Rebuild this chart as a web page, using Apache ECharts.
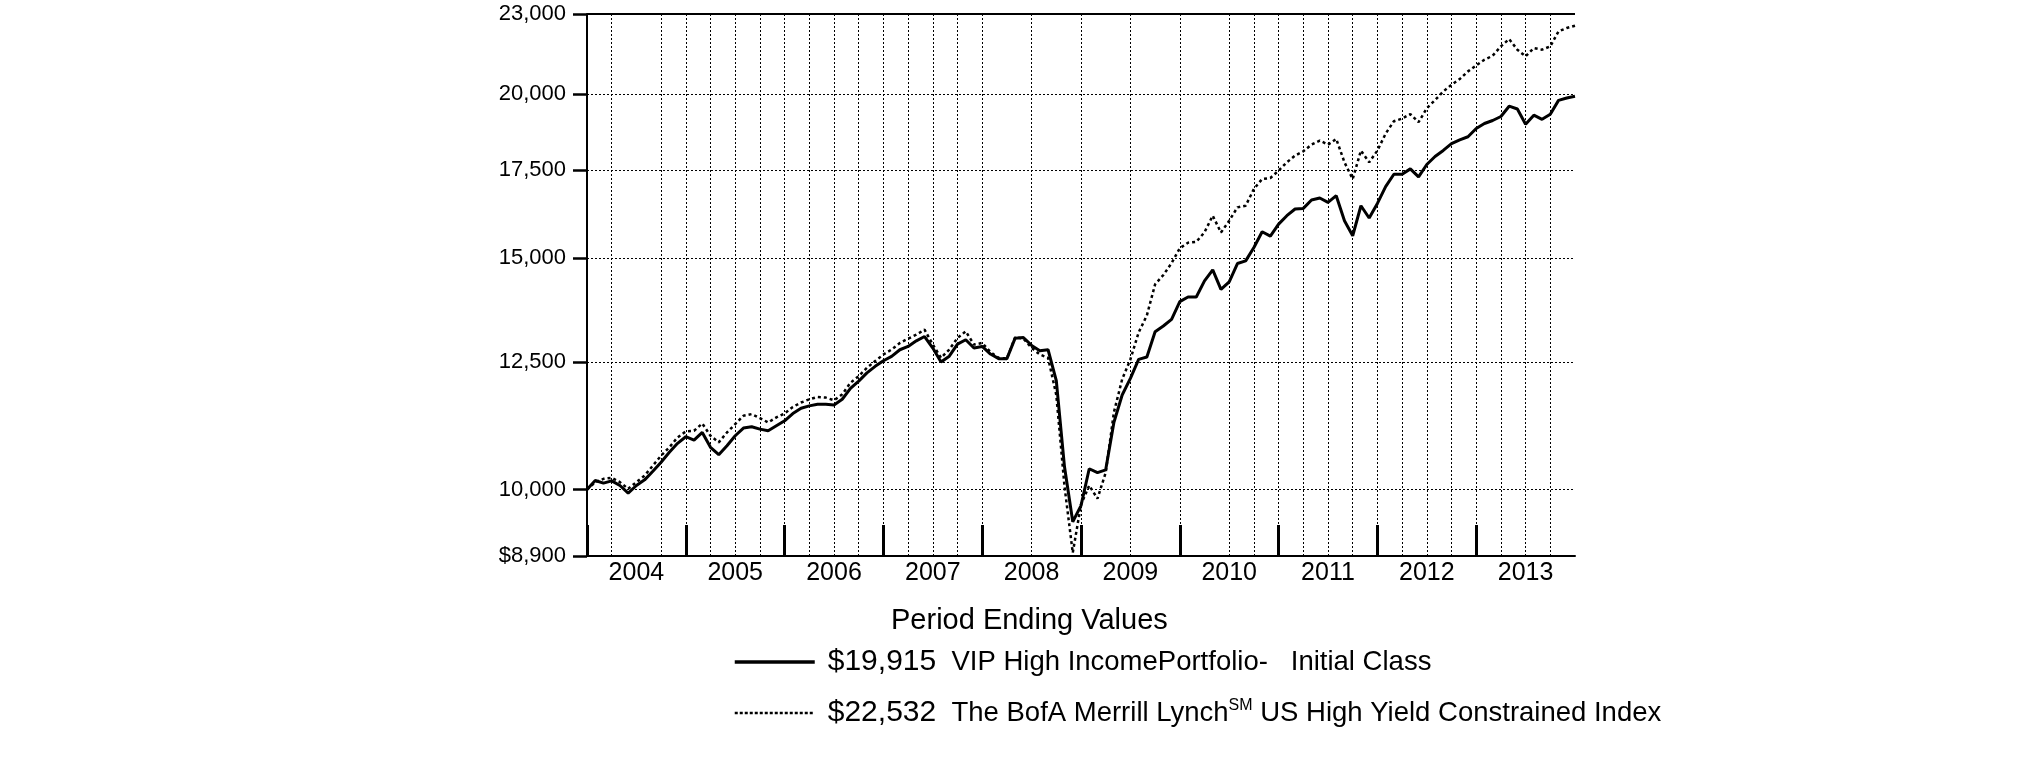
<!DOCTYPE html>
<html>
<head>
<meta charset="utf-8">
<script src="https://cdn.jsdelivr.net/npm/echarts@6/dist/echarts.min.js"></script>
<style>
html,body{margin:0;padding:0;background:#fff;}
#c{width:2025px;height:761px;}
</style>
</head>
<body>
<div id="c"></div>
<script>
// ---- Data (monthly, Dec 2003 = month 0 ... Dec 2013 = month 120) ----
const yearLabels = ['2004','2005','2006','2007','2008','2009','2010','2011','2012','2013'];
const yearLabelMonths = [6,18,30,42,54,66,78,90,102,114];
const yearTickMonths = [0,12,24,36,48,60,72,84,96,108];
const gridMonths = [3,9,12,15,18,21,24,27,30,33,36,39,42,45,48,54,60,66,72,78,81,84,87,90,93,96,99,102,105,108,111,114,117];
const yTicks = [8900,10000,12500,15000,17500,20000,23000];
const yTickLabels = ['$8,900','10,000','12,500','15,000','17,500','20,000','23,000'];
const yGridValues = [10000,12500,15000,17500,20000];
const seriesNames = ['VIP High IncomePortfolio-   Initial Class','The BofA Merrill Lynch\u2120 US High Yield Constrained Index'];
const endValueLabels = ['$19,915','$22,532'];

const vipValues = [
10000,10158,10111,10152,10070,9936,10070,10170,10325,10488,10673,10842,
10968,10904,11050,10766,10629,10797,10987,11135,11161,11115,11083,11180,
11278,11423,11530,11577,11610,11610,11597,11712,11938,12090,12266,12407,
12530,12626,12773,12848,12975,13073,12811,12500,12630,12900,12998,12811,
12848,12677,12575,12575,13035,13050,12870,12752,12773,12100,10400,9450,
9720,10370,10300,10350,11250,11800,12150,12560,12611,13184,13316,13473,
13898,14010,14010,14410,14692,14200,14386,14856,14925,15280,15706,15588,
15918,16154,16344,16362,16604,16662,16536,16730,16012,15596,16438,16088,
16506,17000,17370,17370,17535,17290,17670,17920,18110,18330,18450,18550,
18820,18985,19085,19220,19570,19475,18960,19265,19125,19295,19770,19855,
19915];

const indexValues = [
10000,10129,10188,10206,10129,10012,10129,10247,10427,10611,10767,10955,
11071,11083,11226,10987,10860,11050,11213,11378,11412,11332,11246,11345,
11424,11556,11645,11711,11760,11746,11692,11814,12055,12196,12375,12522,
12667,12778,12926,13024,13115,13230,12889,12594,12778,13039,13192,12889,
12926,12721,12594,12580,13054,13024,12815,12667,12594,11800,10050,8950,
9740,10070,9840,10300,11450,12130,12560,13165,13565,14324,14560,14866,
15260,15408,15428,15693,16154,15686,16012,16392,16440,16928,17226,17258,
17482,17738,17948,18084,18296,18426,18296,18480,17738,17226,18106,17738,
18106,18650,19060,19150,19300,19028,19500,19780,20080,20320,20523,20801,
21020,21229,21379,21733,22013,21606,21355,21668,21606,21733,22310,22443,
22532];

const FONT = '"Liberation Sans", Arial, Helvetica, sans-serif';
const toPairs = arr => arr.map((v, i) => [i, v]);

const chart = echarts.init(document.getElementById('c'), null, {renderer: 'canvas'});

const gridLineStyle = {type: [2, 2], color: '#000', width: 1};
const markData = []
  .concat(yGridValues.map(v => ({yAxis: v, lineStyle: gridLineStyle})))
  .concat(gridMonths.map(m => ({xAxis: m, lineStyle: gridLineStyle})))
  .concat([{yAxis: yTicks[yTicks.length - 1], lineStyle: {type: 'solid', color: '#000', width: 2}}]);

chart.setOption({
  animation: false,
  backgroundColor: '#fff',
  title: {
    text: 'Period Ending Values',
    left: 891,
    top: 606,
    padding: 0,
    textStyle: {fontFamily: FONT, fontSize: 29, fontWeight: 'normal', color: '#000'}
  },
  legend: {
    data: [
      {name: seriesNames[0], lineStyle: {width: 3.5, type: 'solid', color: '#000'}},
      {name: seriesNames[1], lineStyle: {width: 2.5, type: [3, 2], color: '#000'}}
    ],
    orient: 'vertical',
    left: 733,
    top: 647,
    padding: 0,
    itemGap: 21,
    itemWidth: 80,
    itemHeight: 14,
    selectedMode: false,
    itemStyle: {color: 'rgba(0,0,0,0)', borderWidth: 0, opacity: 0},
    formatter: function (name) {
      if (name === seriesNames[0]) {
        return '{v|' + endValueLabels[0] + '}{n|  ' + name + '}';
      }
      const parts = name.split('\u2120');
      return '{v|' + endValueLabels[1] + '}{n|  ' + parts[0] + '}{s|SM}{n|' + parts[1] + '}';
    },
    textStyle: {
      fontFamily: FONT,
      color: '#000',
      rich: {
        v: {fontFamily: FONT, fontSize: 30, color: '#000', padding: [0, 0, 0, 8]},
        n: {fontFamily: FONT, fontSize: 27.5, color: '#000'},
        s: {fontFamily: FONT, fontSize: 16, color: '#000', verticalAlign: 'top'}
      }
    }
  },
  grid: {left: 587, right: 450, top: 14, bottom: 205, containLabel: false},
  xAxis: {
    type: 'value',
    min: 0,
    max: 120,
    axisLine: {show: true, lineStyle: {color: '#000', width: 2}},
    axisTick: {show: true, inside: true, length: 31, customValues: yearTickMonths, lineStyle: {color: '#000', width: 3}},
    axisLabel: {
      show: true,
      customValues: yearLabelMonths,
      margin: 5,
      fontFamily: FONT,
      fontSize: 25,
      color: '#000',
      formatter: v => yearLabels[yearLabelMonths.indexOf(Math.round(v))]
    },
    splitLine: {show: false},
    minorSplitLine: {show: false}
  },
  yAxis: {
    type: 'log',
    logBase: 10,
    min: 8900,
    max: 23000,
    axisLine: {show: true, lineStyle: {color: '#000', width: 2}},
    axisTick: {show: true, inside: false, length: 14, customValues: yTicks, lineStyle: {color: '#000', width: 2.5}},
    axisLabel: {
      show: true,
      customValues: yTicks,
      margin: 21,
      fontFamily: FONT,
      fontSize: 22,
      color: '#000',
      formatter: v => {
        let best = 0;
        for (let i = 1; i < yTicks.length; i++) {
          if (Math.abs(yTicks[i] - v) < Math.abs(yTicks[best] - v)) best = i;
        }
        return yTickLabels[best];
      }
    },
    splitLine: {show: false}
  },
  series: [
    {
      name: 'grid',
      type: 'line',
      data: [],
      z: 1,
      silent: true,
      markLine: {
        silent: true,
        symbol: ['none', 'none'],
        label: {show: false},
        emphasis: {disabled: true},
        animation: false,
        data: markData
      }
    },
    {
      name: seriesNames[0],
      type: 'line',
      data: toPairs(vipValues),
      symbol: 'none',
      showSymbol: false,
      z: 4,
      color: '#000',
      lineStyle: {color: '#000', width: 3, type: 'solid'}
    },
    {
      name: seriesNames[1],
      type: 'line',
      data: toPairs(indexValues),
      symbol: 'none',
      showSymbol: false,
      z: 3,
      color: '#000',
      lineStyle: {color: '#000', width: 2.5, type: [3, 3]}
    }
  ]
});
</script>
</body>
</html>
